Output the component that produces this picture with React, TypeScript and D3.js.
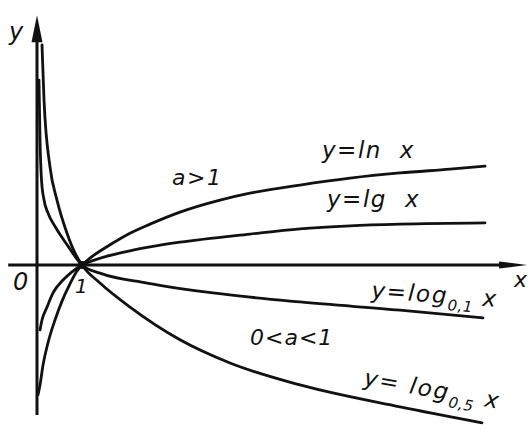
import React from 'react';
import * as d3 from 'd3';

// ---- data (x in units where "1" is the marked point) ----
const lnCurve: [number, number][] = [
  [0.022, -3.02], [0.067, -2.79], [0.133, -2.33], [0.244, -1.81], [0.4, -1.28],
  [0.556, -0.84], [0.733, -0.44], [0.889, -0.14], [1, 0], [1.178, 0.16],
  [1.622, 0.47], [2.067, 0.74], [2.511, 0.95], [3.178, 1.23], [4.067, 1.51],
  [4.733, 1.67], [5.844, 1.86], [6.956, 2.02], [8.067, 2.14], [9.178, 2.23], [9.956, 2.3],
];
const lgCurve: [number, number][] = [
  [0.067, -1.51], [0.111, -1.28], [0.222, -0.98], [0.356, -0.65], [0.578, -0.35],
  [0.778, -0.16], [1, 0], [1.289, 0.12], [2.067, 0.33], [2.511, 0.42], [3.178, 0.53],
  [4.733, 0.72], [5.844, 0.84], [6.956, 0.91], [8.067, 0.95], [9.956, 0.98],
];
const log01Curve: [number, number][] = [
  [0.044, 4.3], [0.067, 2.91], [0.1, 1.98], [0.156, 1.51], [0.244, 1.21],
  [0.422, 0.86], [0.689, 0.44], [1, 0], [1.4, -0.19], [2.444, -0.42],
  [3.911, -0.65], [5.844, -0.86], [8.067, -1.05], [9.911, -1.23],
];
const log05Curve: [number, number][] = [
  [0.111, 5.12], [0.156, 3.84], [0.289, 2.28], [0.444, 1.51], [0.667, 0.74],
  [0.844, 0.28], [1, 0], [1.4, -0.42], [2.067, -0.98], [3.178, -1.74],
  [4.289, -2.28], [5.844, -2.79], [8.067, -3.3], [9.889, -3.67],
];
const xAxisExtent = [-0.64, 10.89];
const yAxisExtent = [-3.49, 5.81];

const curveLabelParts: string[][] = [
  ['y=ln', 'x'],
  ['y=lg', 'x'],
  ['y=log', '0,1', 'x'],
  ['y= log', '0,5', 'x'],
];
const regionLabels = ['a>1', '0<a<1'];
const axisLabels = ['x', 'y'];
const tickLabels = ['0', '1'];

// ---- layout ----
const W = 531;
const H = 440;
const xs = d3.scaleLinear().domain([0, 1]).range([37, 82]);
const ys = d3.scaleLinear().domain([0, 1]).range([265, 222]);

const curveLabelLayout = [
  { x: 322, y: 158, gap: 18, rot: 0, ls: 1.5 },
  { x: 327, y: 207, gap: 18, rot: 0, ls: 1.5 },
  { x: 371, y: 298, gap: 9, rot: 4, ls: 1.8 },
  { x: 363, y: 385, gap: 10, rot: 10, ls: 2 },
];
const regionLayout = [
  { x: 172, y: 185, ls: 1.5 },
  { x: 250, y: 345, ls: 1 },
];

const FONT = '"DejaVu Sans", sans-serif';
const INK = '#111';

export default function App() {
  const line = d3
    .line<[number, number]>()
    .x((d) => xs(d[0]))
    .y((d) => ys(d[1]))
    .curve(d3.curveMonotoneX);

  const curves = [lnCurve, lgCurve, log01Curve, log05Curve];

  const x0 = xs(xAxisExtent[0]);
  const x1 = xs(xAxisExtent[1]);
  const yAxisY = ys(0);
  const yAxisX = xs(0);
  const yTop = ys(yAxisExtent[1]);
  const yBottom = ys(yAxisExtent[0]);

  return (
    <div style={{ position: 'absolute', left: 0, top: 0, width: W, height: H, background: '#fff' }}>
      <svg width={W} height={H} viewBox={`0 0 ${W} ${H}`}>
        <rect x={0} y={0} width={W} height={H} fill="#fff" />
        {/* axes */}
        <line x1={x0} y1={yAxisY} x2={x1 - 20} y2={yAxisY} stroke={INK} strokeWidth={3} />
        <polygon
          points={`${x1},${yAxisY} ${x1 - 28},${yAxisY - 3.5} ${x1 - 28},${yAxisY + 3.5}`}
          fill={INK}
        />
        <line x1={yAxisX} y1={yBottom} x2={yAxisX} y2={yTop + 20} stroke={INK} strokeWidth={3} />
        <polygon
          points={`${yAxisX},${yTop} ${yAxisX - 5.5},${yTop + 27} ${yAxisX + 5.5},${yTop + 27}`}
          fill={INK}
        />
        {/* curves */}
        {curves.map((c, i) => (
          <path
            key={i}
            d={line(c) || ''}
            fill="none"
            stroke={INK}
            strokeWidth={2.8}
            strokeLinecap="round"
            strokeLinejoin="round"
          />
        ))}
        <circle cx={xs(1)} cy={ys(0)} r={4} fill={INK} />
        {/* curve labels */}
        {curveLabelParts.map((parts, i) => {
          const L = curveLabelLayout[i];
          return (
            <text
              key={i}
              x={L.x}
              y={L.y}
              fontFamily={FONT}
              fontStyle="italic"
              fontSize={23}
              fill={INK}
              letterSpacing={L.ls}
              transform={L.rot ? `rotate(${L.rot}, ${L.x}, ${L.y})` : undefined}
            >
              {parts.length === 2 ? (
                <>
                  <tspan>{parts[0]}</tspan>
                  <tspan dx={L.gap}>{parts[1]}</tspan>
                </>
              ) : (
                <>
                  <tspan>{parts[0]}</tspan>
                  <tspan fontSize={15} dy={7} letterSpacing={0.5}>
                    {parts[1]}
                  </tspan>
                  <tspan dy={-7} dx={L.gap}>
                    {parts[2]}
                  </tspan>
                </>
              )}
            </text>
          );
        })}
        {/* region labels */}
        {regionLabels.map((t, i) => {
          const L = regionLayout[i];
          return (
            <text
              key={t}
              x={L.x}
              y={L.y}
              fontFamily={FONT}
              fontStyle="italic"
              fontSize={22}
              fill={INK}
              letterSpacing={L.ls}
            >
              {t}
            </text>
          );
        })}
        {/* axis labels */}
        <text x={514} y={287} fontFamily={FONT} fontStyle="italic" fontSize={22} fill={INK}>
          {axisLabels[0]}
        </text>
        <text x={9} y={40} fontFamily={FONT} fontStyle="italic" fontSize={24} fill={INK}>
          {axisLabels[1]}
        </text>
        {/* tick labels */}
        <text x={13} y={290} fontFamily={FONT} fontStyle="italic" fontSize={24} fill={INK}>
          {tickLabels[0]}
        </text>
        <text x={75} y={293} fontFamily={FONT} fontStyle="italic" fontSize={20} fill={INK}>
          {tickLabels[1]}
        </text>
      </svg>
    </div>
  );
}
